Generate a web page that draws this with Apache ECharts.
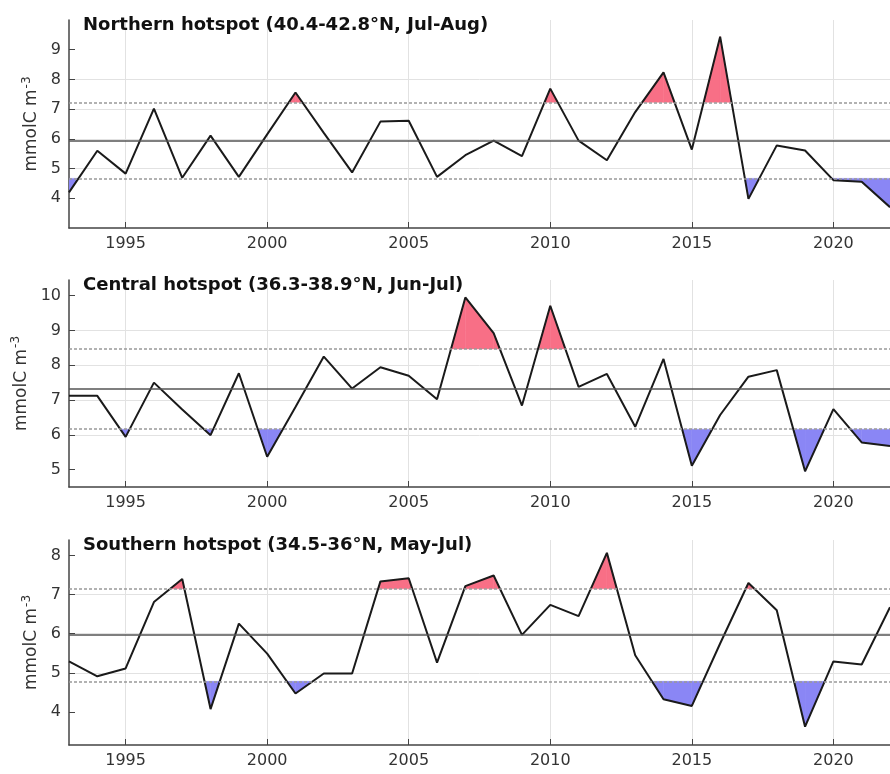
<!DOCTYPE html>
<html>
<head>
<meta charset="utf-8">
<script src="https://cdn.jsdelivr.net/npm/echarts@6/dist/echarts.min.js"></script>
<style>
html,body{margin:0;padding:0;background:#fff;}
#chart{width:890px;height:774px;}
</style>
</head>
<body>
<div id="chart"></div>
<script>
var years = [];
for (var y = 1993; y <= 2022; y++) years.push(String(y));

var titles = [
    'Northern hotspot (40.4-42.8°N, Jul-Aug)',
    'Central hotspot (36.3-38.9°N, Jun-Jul)',
    'Southern hotspot (34.5-36°N, May-Jul)'
];

var northVals = [4.2, 5.6, 4.83, 7.02, 4.69, 6.11, 4.72, 6.15, 7.56, 6.2, 4.87, 6.58, 6.61, 4.72,
    5.45, 5.94, 5.42, 7.69, 5.94, 5.28, 6.9, 8.24, 5.64, 9.44, 3.98, 5.78, 5.61, 4.61, 4.56, 3.7];
var centralVals = [7.12, 7.12, 5.94, 7.5, 6.73, 5.99, 7.77, 5.37, 6.8, 8.25, 7.33, 7.94, 7.7, 7.02,
    9.95, 8.92, 6.84, 9.71, 7.38, 7.75, 6.23, 8.18, 5.11, 6.57, 7.67, 7.86, 4.95, 6.74, 5.78, 5.68];
var southVals = [5.29, 4.91, 5.11, 6.81, 7.4, 4.07, 6.26, 5.49, 4.47, 4.98, 4.98, 7.34, 7.42, 5.26,
    7.22, 7.49, 5.97, 6.74, 6.45, 8.07, 5.45, 4.32, 4.15, 5.75, 7.3, 6.6, 3.62, 5.29, 5.21, 6.68];

var means = [5.95, 7.32, 5.97];
var upperLims = [7.23, 8.47, 7.15];
var lowerLims = [4.67, 6.16, 4.78];

var yMins = [3, 4.5, 3.15];
var yMaxs = [10, 10.45, 8.4];
var yTicks = [[4, 5, 6, 7, 8, 9], [5, 6, 7, 8, 9, 10], [4, 5, 6, 7, 8]];

var gridTops = [20, 280, 540];
var gridHeights = [208, 207, 205];

var allVals = [northVals, centralVals, southVals];

var FONT = 'DejaVu Sans';

var myChart = echarts.init(document.getElementById('chart'));

// fill between line and a threshold, per segment, in pixel space
function makeFill(k, vals, thr, above, color) {
    var segs = [];
    for (var i = 0; i < vals.length - 1; i++) segs.push([i, vals[i], vals[i + 1]]);
    return {
        type: 'custom',
        xAxisIndex: k,
        yAxisIndex: k,
        silent: true,
        clip: true,
        z: 1,
        data: segs,
        encode: { x: 0, y: [1, 2] },
        renderItem: function (params, api) {
            var i = api.value(0), v0 = api.value(1), v1 = api.value(2);
            var p0 = api.coord([i, v0]);
            var p1 = api.coord([i + 1, v1]);
            var ty = api.coord([i, thr])[1];
            var in0 = above ? v0 >= thr : v0 <= thr;
            var in1 = above ? v1 >= thr : v1 <= thr;
            var pts = null;
            if (in0 && in1) {
                pts = [[p0[0], ty], p0, p1, [p1[0], ty]];
            } else if (in0 || in1) {
                var f = (v0 - thr) / (v0 - v1);
                var xc = p0[0] + f * (p1[0] - p0[0]);
                if (in0) pts = [[p0[0], ty], p0, [xc, ty]];
                else pts = [[xc, ty], p1, [p1[0], ty]];
            }
            if (!pts) return null;
            return {
                type: 'polygon',
                shape: { points: pts },
                style: { fill: color, stroke: color, lineWidth: 0.5 }
            };
        }
    };
}

var grids = [], xAxes = [], yAxes = [], series = [], titleList = [];

for (var k = 0; k < 3; k++) {
    (function (k) {
        grids.push({ left: 69, right: -4, top: gridTops[k], height: gridHeights[k] });
        titleList.push({
            text: titles[k],
            left: 78,
            top: gridTops[k] - 9,
            textStyle: { fontFamily: FONT, fontSize: 18, fontWeight: 'bold', color: '#111' }
        });
        var every5 = function (idx, val) { return Number(val) % 5 === 0; };
        xAxes.push({
            type: 'category',
            gridIndex: k,
            data: years,
            boundaryGap: false,
            axisLine: { lineStyle: { color: '#444', width: 1.5 } },
            axisTick: { interval: every5, inside: true, length: 6, lineStyle: { color: '#444' } },
            axisLabel: {
                interval: every5,
                margin: 8,
                fontFamily: FONT,
                fontSize: 16,
                color: '#333'
            },
            splitLine: { show: true, interval: every5, lineStyle: { color: '#e2e2e2', width: 1 } }
        });
        yAxes.push({
            type: 'value',
            gridIndex: k,
            min: yMins[k],
            max: yMaxs[k],
            name: '{a|mmolC m}{s|-3}',
            nameLocation: 'middle',
            nameGap: 19,
            nameRotate: 90,
            nameTextStyle: {
                fontFamily: FONT,
                color: '#333',
                rich: {
                    a: { fontFamily: FONT, fontSize: 17, color: '#333' },
                    s: { fontFamily: FONT, fontSize: 12, color: '#333', verticalAlign: 'top', padding: [0, 0, 10, 1] }
                }
            },
            axisLine: { show: true, lineStyle: { color: '#444', width: 1.5 } },
            axisTick: { show: true, inside: true, length: 6, customValues: yTicks[k], lineStyle: { color: '#444' } },
            axisLabel: {
                margin: 8,
                fontFamily: FONT,
                fontSize: 16,
                color: '#333',
                customValues: yTicks[k]
            },
            splitLine: { show: true, showMinLine: false, showMaxLine: false, lineStyle: { color: '#e2e2e2', width: 1 } }
        });
        series.push(makeFill(k, allVals[k], upperLims[k], true, '#f86f86'));
        series.push(makeFill(k, allVals[k], lowerLims[k], false, '#8a86f5'));
        series.push({
            type: 'line',
            xAxisIndex: k,
            yAxisIndex: k,
            data: allVals[k],
            symbol: 'none',
            z: 3,
            lineStyle: { color: '#1a1a1a', width: 2 },
            markLine: {
                silent: true,
                symbol: 'none',
                label: { show: false },
                data: [
                    { yAxis: means[k], lineStyle: { color: '#555', width: 1.5, type: 'solid' } },
                    { yAxis: upperLims[k], lineStyle: { color: '#999', width: 1.5, type: [3, 2] } },
                    { yAxis: lowerLims[k], lineStyle: { color: '#999', width: 1.5, type: [3, 2] } }
                ]
            }
        });
    })(k);
}

myChart.setOption({
    animation: false,
    backgroundColor: '#fff',
    title: titleList,
    grid: grids,
    xAxis: xAxes,
    yAxis: yAxes,
    series: series
});
</script>
</body>
</html>
